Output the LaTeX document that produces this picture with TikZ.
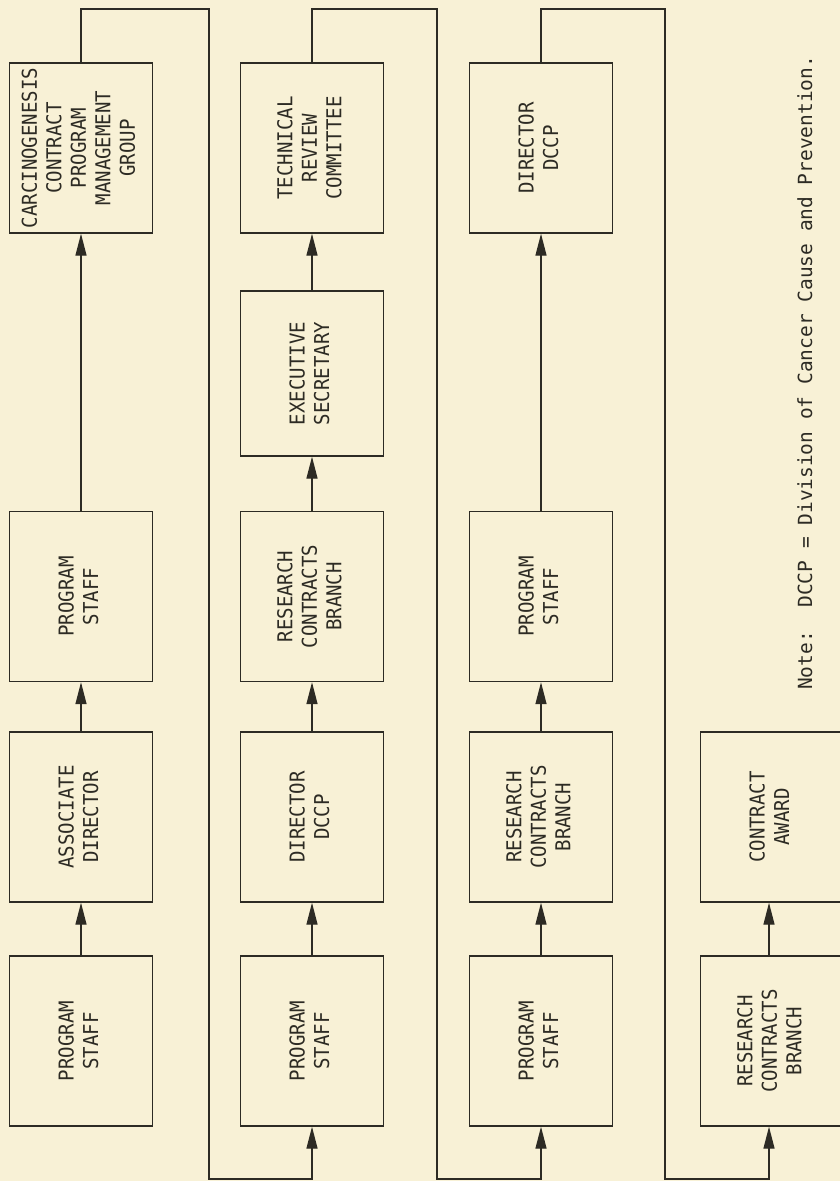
\documentclass[tikz,border=0pt]{standalone}
\usepackage{fontspec}
\newfontfamily\boxfont[FakeStretch=0.93]{DejaVu Sans Mono}
\newfontfamily\notefontfam{DejaVu Sans Mono}
\usetikzlibrary{arrows.meta}
\definecolor{paper}{RGB}{248,241,214}
\definecolor{ink}{RGB}{45,43,36}
\newcommand{\bxt}[1]{\rotatebox{90}{\begin{tabular}{@{}c@{}}#1\end{tabular}}}
\begin{document}
\begin{tikzpicture}[x=1pt,y=-1pt,
  box/.style={draw=ink, line width=1.4pt, minimum width=143pt, minimum height=170pt,
    inner sep=0pt, text=ink, font=\boxfont\fontsize{20.5}{24.5}\selectfont},
  flow/.style={draw=ink, line width=1.4pt, -{Triangle[length=22pt,width=11pt]}},
  notefont/.style={text=ink, font=\notefontfam\fontsize{19.5}{24.5}\selectfont}]
\fill[paper] (0,0) rectangle (840,1181);
\useasboundingbox (0,0) rectangle (840,1181);
% column 1
\node[box] (a1) at (81,148) {\bxt{CARCINOGENESIS\\CONTRACT\\PROGRAM\\MANAGEMENT\\GROUP}};
\node[box] (b1) at (81,596.5) {\bxt{PROGRAM\\STAFF}};
\node[box] (c1) at (81,817) {\bxt{ASSOCIATE\\DIRECTOR}};
\node[box] (d1) at (81,1041) {\bxt{PROGRAM\\STAFF}};
% column 2
\node[box] (a2) at (312,148) {\bxt{TECHNICAL\\REVIEW\\COMMITTEE}};
\node[box, minimum height=165pt] (e2) at (312,373.5) {\bxt{EXECUTIVE\\SECRETARY}};
\node[box] (b2) at (312,596.5) {\bxt{RESEARCH\\CONTRACTS\\BRANCH}};
\node[box] (c2) at (312,817) {\bxt{DIRECTOR\\DCCP}};
\node[box] (d2) at (312,1041) {\bxt{PROGRAM\\STAFF}};
% column 3
\node[box] (a3) at (541,148) {\bxt{DIRECTOR\\DCCP}};
\node[box] (b3) at (541,596.5) {\bxt{PROGRAM\\STAFF}};
\node[box] (c3) at (541,817) {\bxt{RESEARCH\\CONTRACTS\\BRANCH}};
\node[box] (d3) at (541,1041) {\bxt{PROGRAM\\STAFF}};
% column 4 (right edge runs off the page)
\node[box] (c4) at (772,817) {\bxt{CONTRACT\\AWARD}};
\node[box] (d4) at (772,1041) {\bxt{RESEARCH\\CONTRACTS\\BRANCH}};
% arrows within columns
\draw[flow] (d1) -- (c1);
\draw[flow] (c1) -- (b1);
\draw[flow] (b1) -- (a1);
\draw[flow] (d2) -- (c2);
\draw[flow] (c2) -- (b2);
\draw[flow] (b2) -- (e2);
\draw[flow] (e2) -- (a2);
\draw[flow] (d3) -- (c3);
\draw[flow] (c3) -- (b3);
\draw[flow] (b3) -- (a3);
\draw[flow] (d4.north -| 769,0) -- (c4.south -| 769,0);
% loops between columns
\coordinate (t1) at (209,9);   \coordinate (u1) at (209,1179);
\coordinate (t2) at (437,9);   \coordinate (u2) at (437,1179);
\coordinate (t3) at (665,9);   \coordinate (u3) at (665,1179);
\draw[flow] (a1.north) |- (t1) -- (u1) -| (d2.south);
\draw[flow] (a2.north) |- (t2) -- (u2) -| (d3.south);
\draw[flow] (a3.north) |- (t3) -- (u3) -| (d4.south -| 769,0);
% note
\node[notefont, rotate=90, anchor=base west, inner sep=0pt] (note) at (812,690)
  {Note:\ \ DCCP = Division of Cancer Cause and Prevention.};
\end{tikzpicture}
\end{document}
